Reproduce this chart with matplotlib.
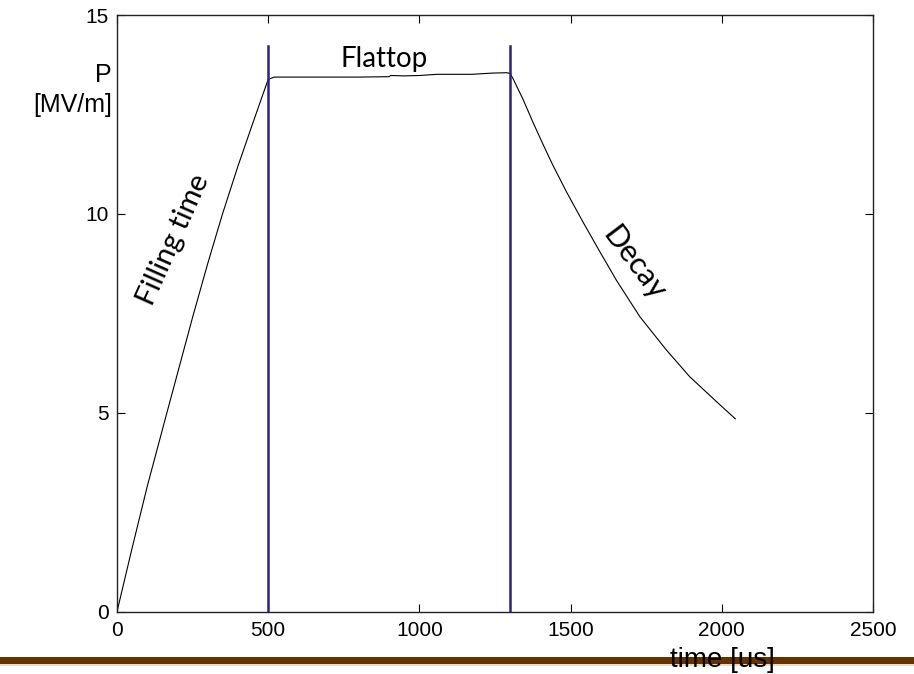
import matplotlib
matplotlib.use("Agg")
import matplotlib.pyplot as plt
from matplotlib.patches import Rectangle

# field trace (time in us, field in MV/m)
time_us = [0, 50, 100, 165, 250, 300, 349, 400, 450, 480, 500,
           520, 600, 700, 800, 900, 905, 950, 1000, 1060, 1100, 1175, 1240, 1290, 1300,
           1310, 1343, 1376, 1409, 1440, 1487, 1541, 1597, 1652, 1729, 1817, 1894, 1983, 2045]
field = [0.0, 1.6, 3.15, 5.0, 7.4, 8.75, 10.0, 11.2, 12.3, 12.95, 13.38,
         13.44, 13.44, 13.44, 13.44, 13.45, 13.48, 13.47, 13.48, 13.51, 13.51, 13.51, 13.54, 13.55, 13.53,
         13.40, 12.88, 12.3, 11.75, 11.25, 10.55, 9.8, 9.05, 8.33, 7.42, 6.58, 5.91, 5.28, 4.85]

markers_us = [500, 1300]
marker_top = 14.22

xticks = [0, 500, 1000, 1500, 2000, 2500]
yticks = [0, 5, 10, 15]

tick_font = ["Liberation Sans", "DejaVu Sans"]
text_font = ["Lato", "DejaVu Sans"]

fig = plt.figure(figsize=(9.14, 6.74), dpi=100)
ax = fig.add_axes([0.128, 0.0924, 0.827, 0.8853])

ax.plot(time_us, field, color="black", lw=0.8)
for m in markers_us:
    ax.plot([m, m], [0, marker_top], color="#2e2085", lw=1.8)

ax.set_xlim(0, 2500)
ax.set_ylim(0, 15)
ax.set_xticks(xticks)
ax.set_yticks(yticks)
ax.tick_params(direction="in", top=True, right=True, length=6, width=0.8,
               labelsize=15)
ax.tick_params(axis="x", pad=7)
ax.tick_params(axis="y", pad=6)
for lbl in ax.get_xticklabels() + ax.get_yticklabels():
    lbl.set_family(tick_font)
for s in ax.spines.values():
    s.set_linewidth(1.0)
    s.set_color("#222222")

ax.text(883, 13.70, "Flattop", ha="center", va="baseline", fontsize=20, family=text_font)
ax.text(188, 9.34, "Filling time", ha="center", va="center", fontsize=21,
        rotation=66, family=text_font)
ax.text(1711, 8.75, "Decay", ha="center", va="center", fontsize=22,
        rotation=-53, family=text_font)

# y label sits outside the axes, at the top left
fig.text(112 / 914, 1 - 75 / 674, "P", ha="right", va="center", fontsize=18,
         family=tick_font)
fig.text(112 / 914, 1 - 105 / 674, "[MV/m]", ha="right", va="center", fontsize=18,
         family=tick_font)

# brown bar across the bottom, x label drawn over it
fig.patches.append(Rectangle((0, 1 - 664 / 674), 1, 7 / 674, transform=fig.transFigure,
                             facecolor="#663300", edgecolor="none", zorder=1))
fig.patches.append(Rectangle((0, 1 - 666 / 674), 1, 2 / 674, transform=fig.transFigure,
                             facecolor="#e6dcc8", edgecolor="none", zorder=1))
fig.text(722 / 914, 1 - 660 / 674, "time [us]", ha="center", va="center", fontsize=20,
         family=tick_font, zorder=5)

fig.savefig("out.png", dpi=100)
